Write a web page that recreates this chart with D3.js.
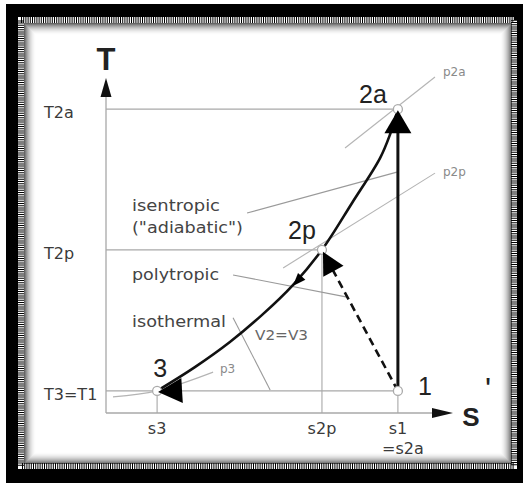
<!DOCTYPE html>
<html>
  <head>
    <script src="https://d3js.org/d3.v7.min.js"></script>
    <style>
      body { margin: 0; background: #fff; }
      text { font-family: "DejaVu Sans", Verdana, sans-serif; }
    </style>
  </head>
  <body>
    <div id="chart"></div>
  <script>
    var width = 523,
        height = 483;

    // state points, entropy s / temperature T (arbitrary units)
    var sTicks = [14.6, 61.7, 83.4],          // s3, s2p, s1
        sLabels = ["s3", "s2p", "s1"];
    var tTicks = [6.6, 48.7, 90.7],           // T1, T2p, T2a
        tLabels = ["T3=T1", "T2p", "T2a"];

    var pointNames = ["1", "2a", "2p", "3"];
    var pointS = [83.4, 83.4, 61.7, 14.6];
    var pointT = [6.6, 90.7, 48.7, 6.6];

    // compression curve from 2a through 2p down to 3
    var curveS = [83.4, 81.1, 78.3, 70.3, 61.7, 53.4, 44.6, 35.4, 25.4, 14.6];
    var curveT = [90.7, 83.0, 76.1, 62.7, 48.7, 38.2, 29.3, 21.2, 13.7, 6.6];

    // isobars
    var isobarNames = ["p2a", "p2p", "p3"];
    var isobarS = [[68.3, 94.0], [50.6, 94.0], [2.0, 14.6, 30.6]];
    var isobarT = [[79.1, 100.3], [43.3, 71.6], [4.8, 6.6, 12.2]];

    // leader lines for the process names
    var leaderNames = ["isentropic", "polytropic", "V2=V3"];
    var leaderS = [[40.3, 83.1], [36.3, 68.9], [36.3, 46.9]];
    var leaderT = [[59.7, 71.9], [41.2, 34.6], [28.4, 6.9]];

    var svg = d3.select("#chart").append("svg")
        .attr("width", width)
        .attr("height", height);

    // ---- frame ----
    svg.append("rect").attr("x", 6).attr("y", 4)
        .attr("width", width - 6).attr("height", height - 4)
        .attr("fill", "#000");
    svg.append("rect").attr("x", 21).attr("y", 20)
        .attr("width", 493).attr("height", 446)
        .attr("fill", "#fff")
        .attr("stroke", "#fff").attr("stroke-width", 6);
    svg.append("rect").attr("x", 21).attr("y", 20)
        .attr("width", 493).attr("height", 446)
        .attr("fill", "none")
        .attr("stroke", "#000").attr("stroke-width", 6)
        .attr("stroke-dasharray", "1,1.2");
    // inner shadow
    for (var i = 0; i < 12; i++) {
      svg.append("rect")
          .attr("x", 24.5 + i).attr("y", 23.5 + i)
          .attr("width", 487 - 2 * i).attr("height", 440 - 2 * i)
          .attr("fill", "none")
          .attr("stroke", "#000")
          .attr("stroke-opacity", 0.6 * Math.pow(1 - i / 12, 2));
    }

    var x = d3.scaleLinear().domain([0, 100]).range([106, 456]),
        y = d3.scaleLinear().domain([0, 100]).range([413, 78]);

    var line = d3.line().x(function(d) { return x(d[0]); }).y(function(d) { return y(d[1]); });

    function arrowHead(tx, ty, dx, dy, len, wid) {
      var n = Math.sqrt(dx * dx + dy * dy); dx /= n; dy /= n;
      var bx = tx - dx * len, by = ty - dy * len;
      return "M" + tx + "," + ty +
             "L" + (bx - dy * wid / 2) + "," + (by + dx * wid / 2) +
             "L" + (bx + dy * wid / 2) + "," + (by - dx * wid / 2) + "Z";
    }

    var gray = "#a8a8a8";

    // ---- axes ----
    svg.append("line")
        .attr("x1", x(0)).attr("y1", y(0)).attr("x2", x(0)).attr("y2", 95)
        .attr("stroke", gray).attr("stroke-width", 1.3);
    svg.append("line")
        .attr("x1", x(0)).attr("y1", y(0)).attr("x2", 436).attr("y2", y(0))
        .attr("stroke", gray).attr("stroke-width", 1.3);
    svg.append("path").attr("d", arrowHead(x(0), 78, 0, -1, 19, 11)).attr("fill", "#111");
    svg.append("path").attr("d", arrowHead(453, y(0), 1, 0, 21, 10)).attr("fill", "#111");

    svg.append("text").attr("x", x(0)).attr("y", 59).attr("dy", "0.36em")
        .attr("text-anchor", "middle")
        .style("font-family", "'Liberation Sans', Arial, sans-serif")
        .style("font-weight", "bold").style("font-size", "31px").attr("fill", "#222")
        .text("T");
    svg.append("text").attr("x", 471).attr("y", 417).attr("dy", "0.36em")
        .attr("text-anchor", "middle")
        .style("font-family", "'Liberation Sans', Arial, sans-serif")
        .style("font-weight", "bold").style("font-size", "26px").attr("fill", "#222")
        .text("S");

    // guide lines
    var hEnds = [pointS[0], pointS[2], pointS[1]];
    svg.selectAll(".hguide").data(tTicks).enter().append("line")
        .attr("x1", x(0)).attr("x2", function(d, i) { return x(hEnds[i]); })
        .attr("y1", function(d) { return y(d); }).attr("y2", function(d) { return y(d); })
        .attr("stroke", gray).attr("stroke-width", 1.1);
    var vTops = [tTicks[0], tTicks[1], tTicks[0]];
    svg.selectAll(".vguide").data(sTicks).enter().append("line")
        .attr("x1", function(d) { return x(d); }).attr("x2", function(d) { return x(d); })
        .attr("y1", function(d, i) { return y(vTops[i]); }).attr("y2", y(0))
        .attr("stroke", gray).attr("stroke-width", 1.1);

    // tick labels
    svg.selectAll(".tlab").data(tTicks).enter().append("text")
        .attr("x", 44).attr("y", function(d) { return y(d) + 3; }).attr("dy", "0.36em")
        .style("font-size", "16px").attr("fill", "#3a3a3a")
        .text(function(d, i) { return tLabels[i]; });
    svg.selectAll(".slab").data(sTicks).enter().append("text")
        .attr("x", function(d) { return x(d); }).attr("y", 428).attr("dy", "0.36em")
        .attr("text-anchor", "middle")
        .style("font-size", "16px").attr("fill", "#3a3a3a")
        .text(function(d, i) { return sLabels[i]; });
    svg.append("text").attr("x", x(sTicks[2]) + 5).attr("y", 448).attr("dy", "0.36em")
        .attr("text-anchor", "middle")
        .style("font-size", "16px").attr("fill", "#3a3a3a")
        .text("=s2a");

    // isobars and leaders
    isobarNames.forEach(function(name, i) {
      var pts = isobarS[i].map(function(s, j) { return [s, isobarT[i][j]]; });
      svg.append("path").attr("d", line.curve(d3.curveCatmullRom)(pts))
          .attr("fill", "none").attr("stroke", "#b4b4b4").attr("stroke-width", 1.1);
    });
    leaderNames.forEach(function(name, i) {
      var pts = leaderS[i].map(function(s, j) { return [s, leaderT[i][j]]; });
      svg.append("path").attr("d", line.curve(d3.curveLinear)(pts))
          .attr("fill", "none").attr("stroke", "#9a9a9a").attr("stroke-width", 1.1);
    });

    // isobar labels
    svg.append("text").attr("x", 443).attr("y", 72).attr("dy", "0.36em")
        .style("font-size", "12px").attr("fill", "#8a8a8a").text("p2a");
    svg.append("text").attr("x", 443).attr("y", 172).attr("dy", "0.36em")
        .style("font-size", "12px").attr("fill", "#8a8a8a").text("p2p");
    svg.append("text").attr("x", 220).attr("y", 369).attr("dy", "0.36em")
        .style("font-size", "12px").attr("fill", "#8a8a8a").text("p3");

    // process names
    var procText = [["isentropic", 206, 88], ["(\"adiabatic\")", 228, 111], ["polytropic", 275, 87], ["isothermal", 322, 94]];
    procText.forEach(function(p) {
      svg.append("text").attr("x", 132).attr("y", p[1]).attr("dy", "0.36em")
          .attr("textLength", p[2]).attr("lengthAdjust", "spacingAndGlyphs")
          .style("font-size", "15px").attr("fill", "#444").text(p[0]);
    });
    svg.append("text").attr("x", 255).attr("y", 335).attr("dy", "0.36em")
        .attr("textLength", 53).attr("lengthAdjust", "spacingAndGlyphs")
        .style("font-size", "14px").attr("fill", "#666").text("V2=V3");

    // ---- processes ----
    var curvePts = curveS.map(function(s, i) { return [s, curveT[i]]; });
    svg.append("path").attr("d", line.curve(d3.curveCatmullRom.alpha(0.5))(curvePts))
        .attr("fill", "none").attr("stroke", "#111").attr("stroke-width", 2.6);

    // isentropic 1 -> 2a
    svg.append("line")
        .attr("x1", x(pointS[0])).attr("y1", y(pointT[0]))
        .attr("x2", x(pointS[1])).attr("y2", y(pointT[1]) + 22)
        .attr("stroke", "#111").attr("stroke-width", 3);

    // polytropic 1 -> 2p (dashed)
    var pdx = x(pointS[2]) - x(pointS[0]), pdy = y(pointT[2]) - y(pointT[0]);
    var pn = Math.sqrt(pdx * pdx + pdy * pdy);
    svg.append("line")
        .attr("x1", x(pointS[0])).attr("y1", y(pointT[0]))
        .attr("x2", x(pointS[2]) - pdx / pn * 20).attr("y2", y(pointT[2]) - pdy / pn * 20)
        .attr("stroke", "#111").attr("stroke-width", 2.6)
        .attr("stroke-dasharray", "8,5");

    // state points
    svg.selectAll(".pt").data(pointNames).enter().append("circle")
        .attr("cx", function(d, i) { return x(pointS[i]); })
        .attr("cy", function(d, i) { return y(pointT[i]); })
        .attr("r", 4.5)
        .attr("fill", "#fff").attr("stroke", "#aaa").attr("stroke-width", 1.3);

    // arrow heads
    svg.append("path").attr("d", arrowHead(x(pointS[1]), y(pointT[1]) + 1, 0, -1, 23, 27)).attr("fill", "#000");
    svg.append("path").attr("d", arrowHead(x(pointS[2]) + 1, y(pointT[2]) + 2, pdx, pdy, 22, 23)).attr("fill", "#000");
    svg.append("path").attr("d", arrowHead(x(pointS[3]) + 1, y(pointT[3]) + 1, -1, 0.06, 24, 25)).attr("fill", "#000");
    // small arrow along the curve between 2p and 3
    var a = curvePts[4], b = curvePts[6], m = curvePts[5];
    svg.append("path")
        .attr("d", arrowHead(x(m[0]), y(m[1]) + 1, x(b[0]) - x(a[0]), y(b[1]) - y(a[1]), 13, 10))
        .attr("fill", "#000");

    // point labels
    var labelStyle = function(sel) {
      return sel.attr("dy", "0.36em").attr("text-anchor", "middle")
          .style("font-family", "'Liberation Sans', Arial, sans-serif")
          .style("font-size", "25px").attr("fill", "#222");
    };
    labelStyle(svg.append("text").attr("x", x(pointS[1]) - 25).attr("y", y(pointT[1]) - 15)).text("2a");
    labelStyle(svg.append("text").attr("x", x(pointS[2]) - 20).attr("y", y(pointT[2]) - 20)).text("2p");
    labelStyle(svg.append("text").attr("x", x(pointS[3]) + 3).attr("y", y(pointT[3]) - 23)).text("3");
    labelStyle(svg.append("text").attr("x", x(pointS[0]) + 27).attr("y", y(pointT[0]) - 5)).text("1");
    labelStyle(svg.append("text").attr("x", 488).attr("y", 388)).style("font-size", "32px").text("'");
  </script>
  </body>
</html>
